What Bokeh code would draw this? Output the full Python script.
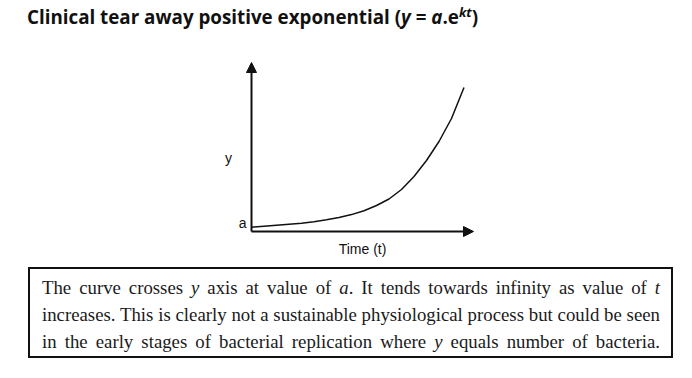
from bokeh.plotting import figure
from bokeh.models import Range1d, Arrow, NormalHead, Div
from bokeh.layouts import column
from bokeh.core.properties import value
from bokeh.embed import file_html
from bokeh.resources import INLINE

# ---- data ----
t_vals = [0, 0.5, 1, 1.5, 2, 2.5, 3, 3.5, 4, 4.5, 5, 5.5, 6, 6.5, 7, 7.5, 8, 8.5]
y_vals = [4.3, 5.3, 6.3, 7.2, 8.3, 9.8, 11.7, 14.0, 16.9, 20.8, 26, 32.5, 42, 55, 71, 90, 113, 144]
t_axis_end = 8.88
y_axis_end = 169
x_label = "Time (t)"
y_label = "y"
a_label = "a"
title_html = ("Clinical tear away positive exponential (<i>y</i> = <i>a</i>.e"
              "<span style=\"position:relative;top:-7px;font-size:13px;font-style:italic\">kt</span>)")
para_lines = [
    "The curve crosses <i>y</i> axis at value of <i>a</i>. It tends towards infinity as value of <i>t</i>",
    "increases. This is clearly not a sustainable physiological process but could be seen",
    "in the early stages of bacterial replication where <i>y</i> equals number of bacteria.",
]

# ---- title ----
title_div = Div(
    text=("<div style=\"font-family:'Open Sans';font-weight:700;font-size:18.8px;line-height:24px;"
          "padding-left:19px;padding-top:5px;white-space:nowrap;color:#111\">" + title_html + "</div>"),
    width=676, height=40, margin=(0, 0, 0, 0))

# ---- chart ----
p = figure(width=676, height=222, x_range=Range1d(-9.72, 17.32), y_range=Range1d(-31, 191),
           output_backend="svg", toolbar_location=None, x_axis_location=None, y_axis_location=None,
           min_border=0, outline_line_color=None, margin=(0, 0, 0, 0))
p.xgrid.visible = False
p.ygrid.visible = False

p.add_layout(Arrow(end=NormalHead(size=10, fill_color="#111", line_color="#111", line_width=1),
                   x_start=0, y_start=0, x_end=t_axis_end, y_end=0, line_width=2, line_color="#111"))
p.add_layout(Arrow(end=NormalHead(size=10, fill_color="#111", line_color="#111", line_width=1),
                   x_start=0, y_start=0, x_end=0, y_end=y_axis_end, line_width=2, line_color="#111"))

p.line(t_vals, y_vals, line_width=1.5, line_color="#111", line_join="round")

p.text(x=[t_axis_end / 2], y=[0], text=[x_label], text_align="center", text_baseline="middle",
       y_offset=17, text_font=value("Liberation Sans"), text_font_size="14px", text_color="#111")
p.text(x=[0], y=[74], text=[y_label], text_align="center", text_baseline="middle",
       x_offset=-23, text_font=value("Liberation Sans"), text_font_size="14px", text_color="#111")
p.text(x=[0], y=[y_vals[0]], text=[a_label], text_align="right", text_baseline="middle",
       x_offset=-5, y_offset=-4, text_font=value("Liberation Sans"), text_font_size="14px", text_color="#111")

# ---- text box ----
box_div = Div(
    text=("<div style=\"box-sizing:border-box;width:645px;height:91px;margin-left:20px;margin-top:5px;"
          "border:2px solid #111;padding:5px 11px 0 12px;font-family:'Liberation Serif';font-size:18.8px;"
          "line-height:27px;text-align:justify;text-align-last:justify;color:#1a1a1a\">"
          + "<br>".join(para_lines) + "</div>"),
    width=676, height=100, margin=(0, 0, 0, 0))

layout = column(title_div, p, box_div, spacing=0, margin=(0, 0, 0, 8))

open("out.html", "w").write(file_html(layout, INLINE))
